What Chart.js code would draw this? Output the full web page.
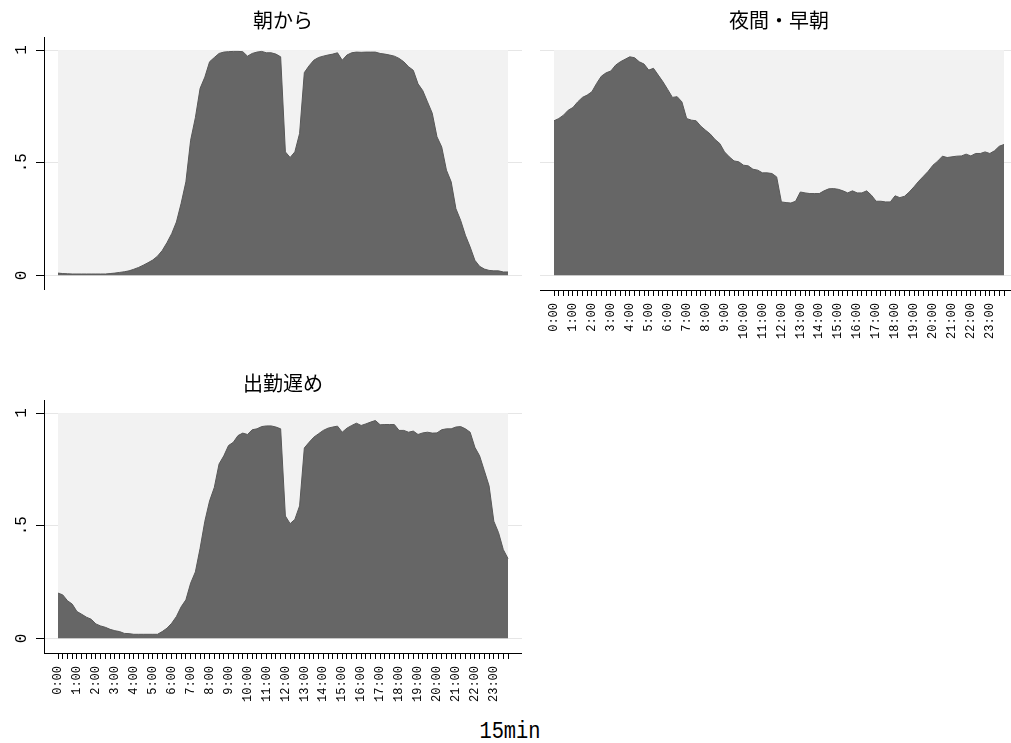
<!DOCTYPE html>
<html>
<head>
<meta charset="utf-8">
<script src="https://cdn.jsdelivr.net/npm/chart.js@4.4.1/dist/chart.umd.min.js"></script>
<style>
  html, body { margin: 0; padding: 0; background: #fff; overflow: hidden; }
  body { width: 1011px; height: 743px; position: relative; }
  canvas { position: absolute; }
  #xtitle { position: absolute; left: 410px; width: 200px; top: 718px; text-align: center;
            font-family: "Liberation Mono", monospace; font-size: 24px; color: #000;
            transform: scaleX(0.85); }
</style>
</head>
<body>
<canvas id="c1" width="522" height="290" style="left:0;top:0"></canvas>
<canvas id="c2" width="478" height="350" style="left:540px;top:0"></canvas>
<canvas id="c3" width="522" height="350" style="left:0;top:363px"></canvas>
<div id="xtitle">15min</div>
<script>
// panel titles
const titles = ['朝から', '夜間・早朝', '出勤遅め'];

// x tick labels, one per hour (every 4th 15-minute slot)
const hourLabels = ['0:00','1:00','2:00','3:00','4:00','5:00','6:00','7:00','8:00','9:00','10:00','11:00',
  '12:00','13:00','14:00','15:00','16:00','17:00','18:00','19:00','20:00','21:00','22:00','23:00'];

const yTicks = [0, 0.5, 1];
const yTickLabels = ['0', '.5', '1'];

// share per 15-minute slot (96 slots)
const morning = [
  0.010,0.008,0.007,0.006,0.006,0.006,0.006,0.006,0.006,0.006,
  0.006,0.008,0.010,0.013,0.016,0.020,0.027,0.035,0.045,0.056,
  0.068,0.085,0.110,0.145,0.185,0.237,0.320,0.415,0.600,0.700,
  0.830,0.880,0.948,0.967,0.985,0.991,0.993,0.994,0.994,0.993,
  0.973,0.985,0.991,0.994,0.988,0.988,0.982,0.970,0.548,0.523,
  0.548,0.630,0.900,0.930,0.955,0.967,0.973,0.978,0.982,0.988,
  0.955,0.978,0.988,0.991,0.990,0.991,0.991,0.991,0.985,0.982,
  0.978,0.973,0.963,0.948,0.926,0.910,0.850,0.820,0.770,0.720,
  0.615,0.570,0.467,0.415,0.296,0.244,0.178,0.126,0.067,0.040,
  0.028,0.022,0.020,0.020,0.015,0.015];

const night = [
  0.686,0.696,0.711,0.733,0.745,0.770,0.790,0.800,0.815,0.852,
  0.884,0.899,0.907,0.933,0.948,0.959,0.970,0.966,0.948,0.938,
  0.911,0.919,0.889,0.859,0.825,0.790,0.793,0.770,0.696,0.689,
  0.686,0.662,0.644,0.627,0.603,0.585,0.548,0.526,0.508,0.504,
  0.489,0.486,0.471,0.467,0.455,0.455,0.452,0.437,0.326,0.323,
  0.321,0.329,0.370,0.366,0.363,0.363,0.363,0.375,0.384,0.385,
  0.382,0.375,0.366,0.375,0.366,0.366,0.375,0.356,0.329,0.329,
  0.326,0.326,0.353,0.345,0.351,0.370,0.393,0.418,0.440,0.462,
  0.489,0.507,0.529,0.523,0.526,0.529,0.530,0.538,0.530,0.541,
  0.541,0.548,0.541,0.553,0.573,0.581];

const late = [
  0.201,0.193,0.167,0.152,0.119,0.107,0.094,0.085,0.064,0.055,
  0.049,0.040,0.034,0.030,0.022,0.021,0.018,0.018,0.018,0.018,
  0.018,0.018,0.030,0.045,0.067,0.097,0.140,0.171,0.245,0.295,
  0.400,0.520,0.610,0.670,0.774,0.810,0.856,0.870,0.900,0.911,
  0.905,0.926,0.930,0.940,0.943,0.943,0.938,0.930,0.543,0.509,
  0.528,0.588,0.845,0.870,0.893,0.908,0.923,0.933,0.938,0.942,
  0.915,0.933,0.945,0.955,0.945,0.952,0.960,0.967,0.948,0.949,
  0.949,0.949,0.923,0.923,0.915,0.920,0.905,0.912,0.915,0.911,
  0.912,0.926,0.930,0.930,0.938,0.940,0.930,0.915,0.848,0.810,
  0.744,0.677,0.520,0.469,0.394,0.354];

const slots = morning.map((_, i) => i);

const bgPlugin = {
  id: 'plotBg',
  beforeDatasetsDraw(chart) {
    const { ctx, scales: { x, y } } = chart;
    const x0 = x.getPixelForValue(slots[0]), x1 = x.getPixelForValue(slots[slots.length - 1]);
    const y0 = y.getPixelForValue(0), y1 = y.getPixelForValue(1);
    ctx.save();
    ctx.fillStyle = '#f2f2f2';
    ctx.fillRect(x0, y1, x1 - x0, y0 - y1);
    ctx.restore();
  }
};

function noPad(s) {
  s.paddingLeft = 0; s.paddingRight = 0; s.paddingTop = 0; s.paddingBottom = 0;
}

function makePanel(id, title, values, showX, showY) {
  return new Chart(document.getElementById(id), {
    type: 'line',
    data: {
      datasets: [{
        data: values.map((v, i) => ({ x: slots[i], y: v })),
        fill: 'origin',
        backgroundColor: '#666666',
        borderColor: '#585858',
        borderWidth: 1,
        pointRadius: 0,
        tension: 0
      }]
    },
    options: {
      responsive: false,
      animation: false,
      devicePixelRatio: 1,
      layout: { padding: 0 },
      plugins: {
        legend: { display: false },
        tooltip: { enabled: false },
        title: {
          display: true, text: title, fullSize: false, color: '#000',
          font: { family: 'Noto Sans CJK JP', size: 20, weight: 'normal' },
          padding: { top: 8, bottom: 5 }
        }
      },
      scales: {
        x: {
          type: 'linear', min: -2.956, max: 97.95,
          display: showX,
          afterBuildTicks: s => { s.ticks = slots.map(v => ({ value: v })); },
          afterFit: s => { s.height = showX ? 60 : 0; noPad(s); },
          border: { display: true, color: '#000', width: 1 },
          grid: { drawOnChartArea: false, drawTicks: true, tickLength: 6, tickColor: '#000' },
          ticks: {
            autoSkip: false, minRotation: 90, maxRotation: 90, padding: 7,
            color: '#000', font: { family: 'Liberation Mono', size: 12 },
            callback: v => (v % 4 === 0 ? hourLabels[v / 4] : '')
          }
        },
        y: {
          min: -0.065, max: 1.058,
          afterBuildTicks: s => { s.ticks = yTicks.map(v => ({ value: v })); },
          afterFit: s => { s.width = showY ? 44 : 0; noPad(s); },
          border: { display: showY, color: '#000', width: 1 },
          grid: { color: '#e6e6e6', lineWidth: 1, drawTicks: showY, tickLength: 8, tickColor: '#000' },
          ticks: {
            display: showY, minRotation: 90, maxRotation: 90, crossAlign: 'center', padding: 5,
            color: '#000', font: { family: 'Liberation Mono', size: 16 },
            callback: v => yTickLabels[yTicks.indexOf(v)]
          }
        }
      }
    },
    plugins: [bgPlugin]
  });
}

makePanel('c1', titles[0], morning, false, true);
makePanel('c2', titles[1], night, true, false);
makePanel('c3', titles[2], late, true, true);
</script>
</body>
</html>
